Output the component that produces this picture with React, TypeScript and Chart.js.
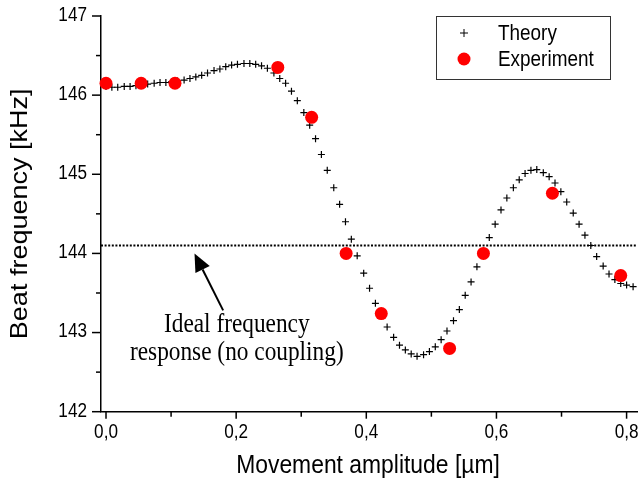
import { useEffect, useRef } from "react";
import { Chart, registerables } from "chart.js";
Chart.register(...registerables);

const theoryX = [
  0.000, 0.009, 0.018, 0.028, 0.037, 0.046, 0.055, 0.064, 0.074, 0.083,
  0.092, 0.101, 0.110, 0.120, 0.129, 0.138, 0.147, 0.156, 0.166, 0.175,
  0.184, 0.193, 0.202, 0.212, 0.221, 0.230, 0.239, 0.248, 0.258, 0.267,
  0.276, 0.285, 0.294, 0.304, 0.313, 0.322, 0.331, 0.340, 0.350, 0.359,
  0.368, 0.377, 0.386, 0.396, 0.405, 0.414, 0.423, 0.432, 0.442, 0.451,
  0.460, 0.469, 0.478, 0.488, 0.497, 0.506, 0.515, 0.524, 0.534, 0.543,
  0.552, 0.561, 0.570, 0.580, 0.589, 0.598, 0.607, 0.616, 0.626, 0.635,
  0.644, 0.653, 0.662, 0.672, 0.681, 0.690, 0.699, 0.708, 0.718, 0.727,
  0.736, 0.745, 0.754, 0.764, 0.773, 0.782, 0.791, 0.800, 0.810,
];
const theoryY = [
  146.11, 146.10, 146.10, 146.11, 146.11, 146.12, 146.13, 146.14, 146.15, 146.16,
  146.16, 146.17, 146.18, 146.19, 146.21, 146.23, 146.25, 146.28, 146.31, 146.33,
  146.36, 146.38, 146.39, 146.40, 146.40, 146.39, 146.37, 146.34, 146.28, 146.21,
  146.15, 146.05, 145.93, 145.78, 145.62, 145.45, 145.25, 145.05, 144.83, 144.62,
  144.40, 144.18, 143.97, 143.75, 143.56, 143.37, 143.21, 143.07, 142.94, 142.84,
  142.78, 142.73, 142.70, 142.72, 142.76, 142.82, 142.91, 143.02, 143.15, 143.29,
  143.47, 143.64, 143.83, 144.02, 144.20, 144.37, 144.55, 144.70, 144.83, 144.93,
  145.01, 145.05, 145.06, 145.02, 144.97, 144.89, 144.78, 144.65, 144.51, 144.37,
  144.23, 144.10, 143.96, 143.84, 143.74, 143.67, 143.62, 143.60, 143.58,
];
const experimentX = [0.0, 0.054, 0.106, 0.264, 0.316, 0.369, 0.423, 0.528, 0.58, 0.686, 0.791];
const experimentY = [146.15, 146.15, 146.15, 146.35, 145.72, 144.0, 143.24, 142.8, 144.0, 144.76, 143.72];
const idealFrequency = 144.1;

const xRange = [-0.0077, 0.816];
const yRange = [142, 147];
const xTicks = [0, 0.1, 0.2, 0.3, 0.4, 0.5, 0.6, 0.7, 0.8];
const yTicks = [142, 142.5, 143, 143.5, 144, 144.5, 145, 145.5, 146, 146.5, 147];

const seriesLabels = ["Theory", "Experiment"];
const xTitle = "Movement amplitude [\u00b5m]";
const yTitle = "Beat frequency [kHz]";
const noteLines = ["Ideal frequency", "response (no coupling)"];
const noteAt = { x: 0.201, y: [143.09, 142.74] };
const arrowTip = { x: 0.136, y: 144.0 };
const arrowTail = { x: 0.18, y: 143.28 };

const SANS = "'Liberation Sans', Arial, sans-serif";
const SERIF = "'Liberation Serif', 'Times New Roman', serif";
const SX = 0.88; // horizontal squeeze of the lettering

const isMajorX = (v: number) => Math.abs(Math.round(v * 10) % 2) === 0;
const isMajorY = (v: number) => Math.abs(v - Math.round(v)) < 1e-6;
const xLabel = (v: number) => v.toFixed(1).replace(".", ",");
const yLabel = (v: number) => String(Math.round(v));

function text(
  ctx: CanvasRenderingContext2D,
  s: string,
  x: number,
  y: number,
  font: string,
  align: CanvasTextAlign,
  rotate = false
) {
  ctx.save();
  ctx.translate(x, y);
  ctx.scale(SX, 1);
  if (rotate) ctx.rotate(-Math.PI / 2);
  ctx.font = font;
  ctx.textAlign = align;
  ctx.textBaseline = "middle";
  ctx.fillStyle = "#000";
  ctx.fillText(s, 0, 0);
  ctx.restore();
}

const decorPlugin = {
  id: "decor",
  afterDraw(chart: any) {
    const ctx = chart.ctx as CanvasRenderingContext2D;
    const xs = chart.scales.x;
    const ys = chart.scales.y;
    const area = chart.chartArea;
    ctx.save();
    // tick marks and labels
    ctx.strokeStyle = "#000";
    ctx.lineWidth = 1.5;
    xTicks.forEach((v) => {
      const px = xs.getPixelForValue(v);
      const major = isMajorX(v);
      ctx.beginPath();
      ctx.moveTo(px, area.bottom);
      ctx.lineTo(px, area.bottom + (major ? 7 : 5));
      ctx.stroke();
      if (major) text(ctx, xLabel(v), px, area.bottom + 21, `19.5px ${SANS}`, "center");
    });
    yTicks.forEach((v) => {
      const py = ys.getPixelForValue(v);
      const major = isMajorY(v);
      ctx.beginPath();
      ctx.moveTo(area.left, py);
      ctx.lineTo(area.left - (major ? 9 : 5), py);
      ctx.stroke();
      if (major) text(ctx, yLabel(v), area.left - 14, py - 0.5, `19.5px ${SANS}`, "right");
    });

    // axis titles
    text(ctx, xTitle, (area.left + area.right) / 2 - 1, 466, `26px ${SANS}`, "center");
    text(ctx, yTitle, 20, (area.top + area.bottom) / 2, `27px ${SANS}`, "center", true);

    // legend
    const bw = 174, bh = 63;
    const bx = area.right - 27 - bw;
    const by = area.top;
    ctx.lineWidth = 1;
    ctx.strokeStyle = "#333";
    ctx.strokeRect(bx + 0.5, by + 0.5, bw, bh);
    const mx = bx + 28;
    const tx = bx + 62;
    const r1 = by + 17;
    const r2 = by + 43;
    ctx.strokeStyle = "#000";
    ctx.lineWidth = 1;
    ctx.beginPath();
    ctx.moveTo(mx - 4, r1);
    ctx.lineTo(mx + 4, r1);
    ctx.moveTo(mx, r1 - 4);
    ctx.lineTo(mx, r1 + 4);
    ctx.stroke();
    ctx.fillStyle = "#ff0000";
    ctx.beginPath();
    ctx.arc(mx, r2, 6.5, 0, Math.PI * 2);
    ctx.fill();
    text(ctx, seriesLabels[0], tx, r1 + 1, `21.5px ${SANS}`, "left");
    text(ctx, seriesLabels[1], tx, r2 + 1, `21.5px ${SANS}`, "left");

    // annotation arrow
    ctx.fillStyle = "#000";
    ctx.strokeStyle = "#000";
    const ax = xs.getPixelForValue(arrowTip.x);
    const ay = ys.getPixelForValue(arrowTip.y);
    const bx2 = xs.getPixelForValue(arrowTail.x);
    const by2 = ys.getPixelForValue(arrowTail.y);
    const ang = Math.atan2(ay - by2, ax - bx2);
    const hl = 18, hw = 8;
    const baseX = ax - hl * Math.cos(ang);
    const baseY = ay - hl * Math.sin(ang);
    ctx.lineWidth = 2;
    ctx.beginPath();
    ctx.moveTo(bx2, by2);
    ctx.lineTo(baseX, baseY);
    ctx.stroke();
    ctx.beginPath();
    ctx.moveTo(ax, ay);
    ctx.lineTo(baseX + hw * Math.sin(ang), baseY - hw * Math.cos(ang));
    ctx.lineTo(baseX - hw * Math.sin(ang), baseY + hw * Math.cos(ang));
    ctx.closePath();
    ctx.fill();

    const nx = xs.getPixelForValue(noteAt.x);
    noteLines.forEach((t, i) => {
      text(ctx, t, nx, ys.getPixelForValue(noteAt.y[i]), `26.5px ${SERIF}`, "center");
    });
    ctx.restore();
  },
};

export default function App() {
  const ref = useRef<HTMLCanvasElement | null>(null);
  useEffect(() => {
    if (!ref.current) return;
    const chart = new Chart(ref.current, {
      type: "scatter",
      data: {
        datasets: [
          {
            label: seriesLabels[1],
            data: experimentX.map((x, i) => ({ x, y: experimentY[i] })),
            pointStyle: "circle",
            pointRadius: 6.5,
            pointBackgroundColor: "#ff0000",
            pointBorderWidth: 0,
            borderColor: "#ff0000",
            showLine: false,
            clip: false as any,
          },
          {
            label: seriesLabels[0],
            data: theoryX.map((x, i) => ({ x, y: theoryY[i] })),
            pointStyle: "cross",
            pointRadius: 3.5,
            pointBorderColor: "#000",
            pointBorderWidth: 1.2,
            borderColor: "#000",
            showLine: false,
          },
          {
            label: "ideal",
            data: [
              { x: xRange[0], y: idealFrequency },
              { x: xRange[1], y: idealFrequency },
            ],
            showLine: true,
            pointRadius: 0,
            borderColor: "#000",
            borderWidth: 2,
            borderDash: [2, 1.6],
          },
        ],
      },
      options: {
        animation: false,
        responsive: false,
        devicePixelRatio: 1,
        layout: { padding: { top: 16, right: 7, left: 0, bottom: 0 } },
        plugins: { legend: { display: false }, tooltip: { enabled: false } },
        scales: {
          x: {
            type: "linear",
            min: xRange[0],
            max: xRange[1],
            afterBuildTicks: (s: any) => {
              s.ticks = xTicks.map((v) => ({ value: v }));
            },
            afterFit: (s: any) => {
              s.height = 74.3;
            },
            grid: { display: false, drawTicks: false },
            border: { display: true, color: "#000", width: 1.5 },
            ticks: { display: false },
            title: { display: false },
          },
          y: {
            type: "linear",
            min: yRange[0],
            max: yRange[1],
            afterBuildTicks: (s: any) => {
              s.ticks = yTicks.map((v) => ({ value: v }));
            },
            afterFit: (s: any) => {
              s.width = 101;
            },
            grid: { display: false, drawTicks: false },
            border: { display: true, color: "#000", width: 1.5 },
            ticks: { display: false },
            title: { display: false },
          },
        },
      },
      plugins: [decorPlugin],
    });
    return () => chart.destroy();
  }, []);
  return (
    <div style={{ position: "fixed", left: 0, top: 0, width: 644, height: 486, background: "#fff" }}>
      <canvas ref={ref} width={644} height={486} style={{ width: 644, height: 486 }} />
    </div>
  );
}
